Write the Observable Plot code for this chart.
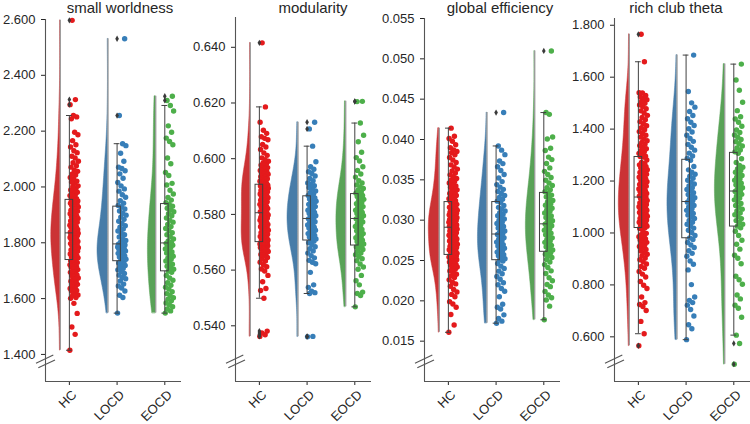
<!DOCTYPE html>
<html>
<head>
<meta charset="utf-8">
<script src="https://cdn.jsdelivr.net/npm/d3@7"></script>
<script src="https://cdn.jsdelivr.net/npm/@observablehq/plot@0.6"></script>
<style>
  html, body { margin: 0; padding: 0; background: #fff; }
  #wrap { position: relative; width: 750px; height: 424px; overflow: hidden; font-family: "Liberation Sans", Arial, sans-serif; }
  .ttl { position: absolute; top: 0px; width: 200px; text-align: center; font-size: 15px; line-height: 15px; color: #262626; white-space: nowrap; }
  .pnl { position: absolute; top: 0; }
</style>
</head>
<body>
<div id="wrap"></div>
<script>
// ---------- categories / labels ----------
const groups = ["HC", "LOCD", "EOCD"];
const titles = ["small worldness", "modularity", "global efficiency", "rich club theta"];
const pointColors = ["#e41a1c", "#377eb8", "#4daf4a"];
const violinColors = ["#cb3335", "#477ca8", "#59a257"];

// ---------- small worldness ----------
const swHC = [1.415,1.472,1.498,1.547,1.583,1.601,1.604,1.611,1.613,1.618,
  1.627,1.629,1.634,1.636,1.644,1.648,1.651,1.659,1.662,1.663,
  1.671,1.674,1.676,1.683,1.685,1.688,1.694,1.697,1.698,1.704,
  1.707,1.712,1.714,1.715,1.721,1.724,1.726,1.729,1.733,1.736,
  1.739,1.740,1.746,1.749,1.750,1.755,1.759,1.760,1.762,1.767,
  1.770,1.773,1.774,1.779,1.782,1.782,1.787,1.790,1.792,1.796,
  1.797,1.802,1.804,1.805,1.809,1.812,1.814,1.817,1.819,1.821,
  1.824,1.826,1.826,1.829,1.831,1.833,1.834,1.834,1.835,1.835,
  1.836,1.838,1.843,1.846,1.848,1.849,1.855,1.857,1.860,1.863,
  1.865,1.868,1.874,1.876,1.878,1.881,1.885,1.887,1.890,1.893,
  1.896,1.898,1.904,1.905,1.907,1.913,1.916,1.917,1.922,1.925,
  1.928,1.929,1.934,1.938,1.941,1.942,1.946,1.949,1.950,1.953,
  1.956,1.958,1.964,1.969,1.972,1.975,1.981,1.987,1.989,1.996,
  2.002,2.004,2.013,2.018,2.021,2.030,2.034,2.043,2.047,2.056,
  2.060,2.071,2.076,2.087,2.092,2.104,2.110,2.123,2.130,2.143,
  2.151,2.166,2.187,2.196,2.244,2.251,2.256,2.295,2.313,2.597];
const swLOCD = [1.548,1.604,1.612,1.627,1.638,1.645,1.652,1.663,1.671,1.676,1.684,1.690,1.697,1.703,1.708,1.713,1.719,1.724,1.728,1.731,
  1.735,1.741,1.744,1.749,1.753,1.758,1.762,1.765,1.769,1.771,1.774,1.777,1.779,1.782,1.785,1.787,1.789,1.792,1.794,1.795,
  1.797,1.802,1.808,1.815,1.821,1.829,1.834,1.842,1.849,1.856,1.861,1.869,1.877,1.884,1.892,1.899,1.906,1.914,1.921,1.928,
  1.934,1.942,1.951,1.963,1.972,1.985,1.993,2.004,2.016,2.031,2.047,2.058,2.066,2.071,2.092,2.121,2.148,2.155,2.256,2.531];
const swEOCD = [1.548,1.556,1.563,1.571,1.578,1.584,1.592,1.598,1.603,1.611,1.618,1.625,1.634,1.641,1.648,1.657,1.666,1.674,1.683,1.694,
  1.699,1.705,1.712,1.716,1.723,1.729,1.735,1.741,1.746,1.752,1.758,1.763,1.767,1.772,1.778,1.783,1.787,1.791,1.795,1.798,
  1.801,1.807,1.814,1.822,1.829,1.836,1.843,1.851,1.858,1.866,1.874,1.881,1.889,1.897,1.904,1.911,1.918,1.924,1.931,1.937,
  1.944,1.953,1.962,1.975,1.988,2.007,2.013,2.041,2.052,2.083,2.104,2.151,2.163,2.175,2.196,2.219,2.272,2.292,2.310,2.325];

// ---------- modularity ----------
const modHC = [0.5362,0.5368,0.5374,0.5381,0.5499,0.5527,0.5534,0.5558,0.5581,0.5597,
  0.5604,0.5612,0.5619,0.5628,0.5633,0.5641,0.5645,0.5652,0.5656,0.5661,
  0.5664,0.5667,0.5671,0.5674,0.5676,0.5678,0.5681,0.5683,0.5685,0.5687,
  0.5689,0.5691,0.5692,0.5693,0.5694,0.5695,0.5696,0.5697,0.5698,0.5699,
  0.5701,0.5703,0.5708,0.5710,0.5711,0.5716,0.5718,0.5721,0.5724,0.5724,
  0.5729,0.5732,0.5734,0.5735,0.5740,0.5743,0.5745,0.5748,0.5751,0.5751,
  0.5756,0.5759,0.5760,0.5764,0.5767,0.5768,0.5773,0.5774,0.5779,0.5781,
  0.5782,0.5787,0.5788,0.5790,0.5795,0.5797,0.5798,0.5800,0.5803,0.5805,
  0.5807,0.5810,0.5814,0.5817,0.5821,0.5823,0.5827,0.5829,0.5833,0.5836,
  0.5838,0.5842,0.5845,0.5846,0.5851,0.5853,0.5856,0.5860,0.5862,0.5865,
  0.5867,0.5871,0.5873,0.5876,0.5879,0.5881,0.5884,0.5886,0.5889,0.5892,
  0.5894,0.5895,0.5898,0.5899,0.5901,0.5902,0.5904,0.5905,0.5905,0.5906,
  0.5908,0.5912,0.5915,0.5919,0.5922,0.5926,0.5928,0.5933,0.5935,0.5939,
  0.5941,0.5944,0.5946,0.5949,0.5953,0.5955,0.5958,0.5962,0.5966,0.5968,
  0.5972,0.5977,0.5981,0.5985,0.5991,0.5996,0.6003,0.6012,0.6021,0.6033,
  0.6042,0.6051,0.6068,0.6073,0.6079,0.6091,0.6102,0.6131,0.6186,0.6416];
const modLOCD = [0.5361,0.5362,0.5516,0.5519,0.5524,0.5538,0.5547,0.5592,0.5623,0.5628,0.5635,0.5644,0.5652,0.5661,0.5669,0.5677,0.5684,0.5691,0.5698,0.5704,
  0.5707,0.5712,0.5716,0.5719,0.5724,0.5728,0.5731,0.5735,0.5739,0.5743,0.5746,0.5751,0.5754,0.5758,0.5762,0.5767,0.5771,0.5774,0.5779,0.5784,
  0.5787,0.5791,0.5795,0.5799,0.5803,0.5807,0.5811,0.5815,0.5819,0.5823,0.5828,0.5832,0.5836,0.5839,0.5843,0.5847,0.5851,0.5855,0.5859,0.5864,
  0.5868,0.5873,0.5879,0.5884,0.5891,0.5897,0.5903,0.5908,0.5913,0.5921,0.5929,0.5938,0.5947,0.5953,0.5962,0.5971,0.5989,0.6045,0.6107,0.6131];
const modEOCD = [0.5468,0.5509,0.5516,0.5521,0.5547,0.5562,0.5581,0.5603,0.5611,0.5622,0.5634,0.5641,0.5649,0.5655,0.5661,0.5668,0.5674,0.5679,0.5683,0.5686,
  0.5689,0.5694,0.5698,0.5703,0.5707,0.5712,0.5716,0.5721,0.5726,0.5731,0.5736,0.5741,0.5746,0.5751,0.5757,0.5762,0.5768,0.5773,0.5779,0.5784,
  0.5787,0.5791,0.5795,0.5799,0.5803,0.5807,0.5811,0.5815,0.5819,0.5824,0.5828,0.5833,0.5838,0.5843,0.5849,0.5854,0.5859,0.5864,0.5868,0.5872,
  0.5876,0.5881,0.5887,0.5893,0.5899,0.5906,0.5913,0.5921,0.5934,0.5945,0.5958,0.5971,0.5992,0.6004,0.6023,0.6061,0.6084,0.6128,0.6205,0.6206];

// ---------- global efficiency ----------
const geHC = [0.0161,0.0170,0.0183,0.0192,0.0196,0.0199,0.0205,0.0208,0.0211,0.0214,
  0.0218,0.0221,0.0223,0.0226,0.0229,0.0231,0.0233,0.0235,0.0237,0.0239,
  0.0240,0.0242,0.0243,0.0244,0.0245,0.0247,0.0248,0.0249,0.0250,0.0251,
  0.02516,0.02523,0.0253,0.02538,0.02542,0.02547,0.02551,0.02555,0.02558,0.0256,
  0.02572,0.02581,0.02588,0.02597,0.02611,0.02619,0.02626,0.02634,0.02643,0.02651,
  0.02662,0.02668,0.02677,0.02684,0.02693,0.02701,0.02712,0.02718,0.02729,0.02736,
  0.02743,0.02751,0.02762,0.02768,0.02779,0.02787,0.02796,0.02805,0.02814,0.02826,
  0.02837,0.02845,0.02858,0.02866,0.02874,0.02882,0.02889,0.02897,0.02904,0.0291,
  0.02915,0.0292,0.02928,0.02935,0.0294,0.02948,0.02955,0.02961,0.02968,0.02974,
  0.02982,0.02989,0.02995,0.03002,0.0301,0.03017,0.03024,0.0303,0.03037,0.03045,
  0.03052,0.03058,0.03066,0.03073,0.03079,0.03087,0.03094,0.031,0.03108,0.03115,
  0.03123,0.0313,0.03138,0.03146,0.03153,0.03161,0.0317,0.03182,0.03196,0.03222,
  0.03231,0.03242,0.03254,0.03267,0.03278,0.03291,0.03305,0.03318,0.03332,0.03347,
  0.03361,0.03376,0.03392,0.03408,0.03425,0.03443,0.0346,0.03479,0.03498,0.03518,
  0.0354,0.03562,0.03585,0.03609,0.03633,0.03659,0.03686,0.03714,0.03745,0.03776,
  0.0381,0.03835,0.03852,0.0387,0.03898,0.03935,0.03978,0.04012,0.04041,0.04141];
const geLOCD = [0.01723,0.01748,0.01781,0.01826,0.01898,0.01921,0.01957,0.02051,0.02118,0.02152,0.02199,0.02224,0.02268,0.02301,0.02335,0.02368,0.02402,0.0243,0.02462,0.02494,
  0.02507,0.02523,0.02541,0.02558,0.02572,0.02589,0.02604,0.02619,0.02635,0.02651,0.02666,0.02681,0.02697,0.02712,0.02728,0.02745,0.02763,0.02782,0.02801,0.02823,
  0.02834,0.02849,0.02866,0.02884,0.02902,0.02921,0.0294,0.02958,0.02977,0.02996,0.03016,0.03035,0.03054,0.03074,0.03094,0.03115,0.03137,0.03159,0.03183,0.03221,
  0.03236,0.03258,0.03281,0.03305,0.0333,0.03356,0.03382,0.0341,0.03441,0.03478,0.03522,0.03567,0.03615,0.03663,0.03701,0.03734,0.03812,0.03868,0.0392,0.04334];
const geEOCD = [0.01765,0.01934,0.02011,0.02038,0.02072,0.02117,0.02176,0.02203,0.02249,0.02286,0.02338,0.02372,0.02413,0.02449,0.02482,0.02513,0.02537,0.02559,0.02578,0.02596,
  0.02612,0.02631,0.02652,0.02671,0.02688,0.02706,0.02725,0.02743,0.02762,0.02781,0.028,0.02819,0.02838,0.02857,0.02876,0.02895,0.02913,0.0293,0.02944,0.02951,
  0.02958,0.02975,0.02994,0.03013,0.03033,0.03052,0.03071,0.0309,0.03109,0.03128,0.03147,0.03166,0.03185,0.03205,0.03225,0.03245,0.03266,0.03289,0.03311,0.03333,
  0.03352,0.03376,0.03402,0.0343,0.03461,0.03494,0.03529,0.03566,0.03605,0.03648,0.03702,0.03751,0.03782,0.03863,0.03892,0.04006,0.04031,0.04312,0.04334,0.05098];

// ---------- rich club theta ----------
const rcHC = [0.5657,0.612,0.6594,0.7012,0.7168,0.7245,0.7318,0.7534,0.7862,0.7985,
  0.8134,0.8302,0.8416,0.8521,0.8644,0.8712,0.8805,0.8891,0.8967,0.9034,
  0.9112,0.9178,0.9231,0.9302,0.9367,0.9415,0.9478,0.9534,0.9587,0.9639,
  0.9685,0.9728,0.9774,0.9818,0.9857,0.9893,0.9931,0.9986,1.0065,1.0171,
  1.0198,1.0234,1.0262,1.0291,1.0327,1.0354,1.0382,1.0415,1.0447,1.0473,
  1.0502,1.0531,1.0561,1.0588,1.0614,1.0645,1.0673,1.0701,1.0729,1.0758,
  1.0786,1.0814,1.0845,1.0873,1.0901,1.0932,1.0959,1.0985,1.1014,1.1043,
  1.1071,1.1098,1.1125,1.1156,1.1184,1.1213,1.1248,1.1283,1.1331,1.1376,
  1.1392,1.1421,1.1455,1.1488,1.1523,1.1556,1.1589,1.1621,1.1657,1.1693,
  1.1728,1.1762,1.1797,1.1832,1.1868,1.1903,1.1941,1.1976,1.2012,1.2047,
  1.2083,1.2118,1.2152,1.2189,1.2224,1.2259,1.2294,1.2331,1.2367,1.2403,
  1.2438,1.2474,1.2511,1.2548,1.2586,1.2623,1.2667,1.2712,1.2812,1.2921,
  1.2944,1.2958,1.3011,1.3067,1.3125,1.3183,1.3241,1.3302,1.3365,1.3428,
  1.3491,1.3556,1.3624,1.3692,1.3761,1.3832,1.3905,1.3978,1.4052,1.4127,
  1.4205,1.4283,1.4362,1.4445,1.4531,1.4618,1.4703,1.4787,1.4865,1.4932,
  1.4998,1.5062,1.5134,1.5182,1.5235,1.5292,1.5389,1.5401,1.6594,1.7653];
const rcLOCD = [0.5891,0.6312,0.6467,0.6803,0.7052,0.7221,0.7318,0.7405,0.7534,0.8012,0.8578,0.8794,0.8921,0.9103,0.9214,0.9316,0.9442,0.9538,0.9634,0.9751,
  0.9812,0.9905,1.0021,1.0104,1.0187,1.0263,1.0335,1.0412,1.0486,1.0557,1.0624,1.0688,1.0749,1.0811,1.0872,1.0935,1.0998,1.1061,1.1124,1.1187,
  1.1238,1.1297,1.1356,1.1418,1.1482,1.1547,1.1612,1.1679,1.1745,1.1813,1.1884,1.1956,1.2031,1.2107,1.2184,1.2262,1.2341,1.2432,1.2563,1.2801,
  1.2872,1.2967,1.3075,1.3189,1.3304,1.3412,1.3528,1.3641,1.3762,1.3889,1.4012,1.4137,1.4265,1.4402,1.4523,1.4681,1.4845,1.5012,1.5451,1.6851];
const rcEOCD = [0.4945,0.5746,0.6066,0.6753,0.7102,0.7215,0.7461,0.7612,0.8023,0.8198,0.8334,0.8812,0.9024,0.9145,0.9378,0.9567,0.9721,0.9903,1.0065,1.0198,
  1.0263,1.0334,1.0402,1.0476,1.0553,1.0627,1.0701,1.0774,1.0846,1.0918,1.0989,1.1061,1.1134,1.1205,1.1276,1.1348,1.1419,1.1487,1.1543,1.1598,
  1.1634,1.1685,1.1741,1.1798,1.1856,1.1914,1.1972,1.2031,1.2091,1.2152,1.2214,1.2276,1.2339,1.2403,1.2468,1.2534,1.2601,1.2715,1.2856,1.3072,
  1.3124,1.3198,1.3276,1.3354,1.3435,1.3517,1.3601,1.3688,1.3776,1.3867,1.3963,1.4112,1.4267,1.4389,1.4478,1.4712,1.5034,1.5496,1.5891,1.6503];

// ---------- tick values / y domains ----------
const swTicks = [1.4, 1.6, 1.8, 2.0, 2.2, 2.4, 2.6];
const modTicks = [0.54, 0.56, 0.58, 0.60, 0.62, 0.64];
const geTicks = [0.015, 0.020, 0.025, 0.030, 0.035, 0.040, 0.045, 0.050, 0.055];
const rcTicks = [0.6, 0.8, 1.0, 1.2, 1.4, 1.6, 1.8];
const swDomain = [1.303, 2.6];
const modDomain = [0.520, 0.6507];
const geDomain = [0.010, 0.055];
const rcDomain = [0.428, 1.826];

const panels = [
  {title: titles[0], series: [swHC, swLOCD, swEOCD], ticks: swTicks, domain: swDomain},
  {title: titles[1], series: [modHC, modLOCD, modEOCD], ticks: modTicks, domain: modDomain},
  {title: titles[2], series: [geHC, geLOCD, geEOCD], ticks: geTicks, domain: geDomain},
  {title: titles[3], series: [rcHC, rcLOCD, rcEOCD], ticks: rcTicks, domain: rcDomain}
];

// layout (pixels)
const layout = [
  {left: 0, width: 189, marginTop: 19, marginRight: 8, titleCenter: 120},
  {left: 189.5, width: 189, marginTop: 17, marginRight: 8, titleCenter: 313},
  {left: 378.5, width: 189, marginTop: 18, marginRight: 8, titleCenter: 500},
  {left: 569, width: 181, marginTop: 18, marginRight: 0, titleCenter: 676}
];

const X_DOMAIN = [-0.5, 2.35];
const VIOL_EDGE = -0.19, VIOL_MAX = 0.22, BOX_HALF = 0.08, CAP_HALF = 0.06;
const JIT_CENTER = 0.1, JIT_SPAN = 0.18;
const fmt = d3.format(".3f");

function boxStats(vals, g) {
  const s = vals.slice().sort((a, b) => a - b);
  const q1 = d3.quantileSorted(s, 0.25), med = d3.quantileSorted(s, 0.5), q3 = d3.quantileSorted(s, 0.75);
  const iqr = q3 - q1;
  const loF = q1 - 1.5 * iqr, hiF = q3 + 1.5 * iqr;
  const inside = s.filter(v => v >= loF && v <= hiF);
  return {g, q1, med, q3, lo: d3.min(inside), hi: d3.max(inside), min: s[0], max: s[s.length - 1],
    outliers: s.filter(v => v < loF || v > hiF).map(v => ({g, v}))};
}

function kde(vals) {
  const n = vals.length, sd = d3.deviation(vals);
  const bw = sd * Math.pow(n, -1 / 5);
  const [lo, hi] = d3.extent(vals);
  const norm = 1 / (bw * Math.sqrt(2 * Math.PI));
  return d3.range(121).map(k => {
    const y = lo + (hi - lo) * k / 120;
    return {y, d: norm * d3.mean(vals, v => Math.exp(-0.5 * ((y - v) / bw) ** 2))};
  });
}

const wrap = document.getElementById("wrap");

panels.forEach((p, pi) => {
  const L = layout[pi];
  const stats = p.series.map((vals, g) => boxStats(vals, g));
  const dens = p.series.map(vals => kde(vals));
  const maxD = d3.max(dens, arr => d3.max(arr, e => e.d));
  const marks = [];
  // half violins
  dens.forEach((arr, g) => {
    const pts = arr.map(e => ({y: e.y, w: e.d / maxD * VIOL_MAX}));
    marks.push(Plot.areaX(pts, {
      y: "y",
      x1: () => g + VIOL_EDGE,
      x2: e => g + VIOL_EDGE - e.w,
      fill: violinColors[g], stroke: violinColors[g], strokeWidth: 0.5
    }));
  });
  marks.push(Plot.ruleX(stats, {x: s => s.g + VIOL_EDGE, y1: "min", y2: "max", stroke: "#9a9a9a", strokeWidth: 1.3}));
  // jittered points
  p.series.forEach((vals, g) => {
    const pts = vals.map((v, i) => ({v, j: (i * 0.6180339887) % 1}));
    marks.push(Plot.dot(pts, {
      x: d => g + JIT_CENTER + (d.j - 0.5) * JIT_SPAN,
      y: "v", r: 2.7, fill: pointColors[g], stroke: "none"
    }));
  });
  // boxes
  const boxStroke = "#404040";
  marks.push(Plot.ruleX(stats, {x: "g", y1: "q3", y2: "hi", stroke: boxStroke, strokeWidth: 1}));
  marks.push(Plot.ruleX(stats, {x: "g", y1: "lo", y2: "q1", stroke: boxStroke, strokeWidth: 1}));
  marks.push(Plot.ruleY(stats, {y: "hi", x1: s => s.g - CAP_HALF, x2: s => s.g + CAP_HALF, stroke: boxStroke, strokeWidth: 1}));
  marks.push(Plot.ruleY(stats, {y: "lo", x1: s => s.g - CAP_HALF, x2: s => s.g + CAP_HALF, stroke: boxStroke, strokeWidth: 1}));
  marks.push(Plot.rect(stats, {x1: s => s.g - BOX_HALF, x2: s => s.g + BOX_HALF, y1: "q1", y2: "q3", fill: "none", stroke: boxStroke, strokeWidth: 1}));
  marks.push(Plot.ruleY(stats, {y: "med", x1: s => s.g - BOX_HALF, x2: s => s.g + BOX_HALF, stroke: boxStroke, strokeWidth: 1}));
  marks.push(Plot.dot(stats.flatMap(s => s.outliers), {x: "g", y: "v", symbol: "diamond", r: 1.9, fill: "#3a3a3a", stroke: "none"}));
  // axis lines
  marks.push(Plot.ruleX([X_DOMAIN[0]], {stroke: "#555", strokeWidth: 1.1}));
  marks.push(Plot.ruleY([p.domain[0]], {stroke: "#555", strokeWidth: 1.1}));
  // rotated group labels
  marks.push(Plot.text(groups, {
    x: (d, i) => i, text: d => d, frameAnchor: "bottom", rotate: -45, textAnchor: "end",
    dx: 8, dy: 14, fontSize: 13, fill: "#262626"
  }));

  const chart = Plot.plot({
    width: L.width, height: 424,
    marginLeft: 45, marginRight: L.marginRight, marginTop: L.marginTop, marginBottom: 43,
    style: {fontFamily: "'Liberation Sans', Arial, sans-serif", fontSize: "13px", color: "#262626", background: "transparent", overflow: "visible"},
    x: {domain: X_DOMAIN, ticks: [0, 1, 2], tickFormat: () => "", tickSize: 4, label: null},
    y: {domain: p.domain, ticks: p.ticks, tickFormat: fmt, tickSize: 4, tickPadding: 6, label: null},
    marks
  });
  chart.classList.add("pnl");
  chart.style.left = L.left + "px";
  wrap.appendChild(chart);

  // axis break marks, placed from the scales
  const xs = chart.scale("x"), ys = chart.scale("y");
  const ax = xs.apply(X_DOMAIN[0]), by = ys.apply(p.domain[0]);
  const svg = d3.select(chart);
  [[-9, -17.7, 8.3, -26], [-6.7, -13.3, 10, -21]].forEach(([a, b, c, d]) => {
    svg.append("line").attr("x1", ax + a).attr("y1", by + b).attr("x2", ax + c).attr("y2", by + d)
      .attr("stroke", "#555").attr("stroke-width", 1.1);
  });

  const t = document.createElement("div");
  t.className = "ttl";
  t.textContent = p.title;
  t.style.left = (L.titleCenter - 100) + "px";
  wrap.appendChild(t);
});
</script>
</body>
</html>
